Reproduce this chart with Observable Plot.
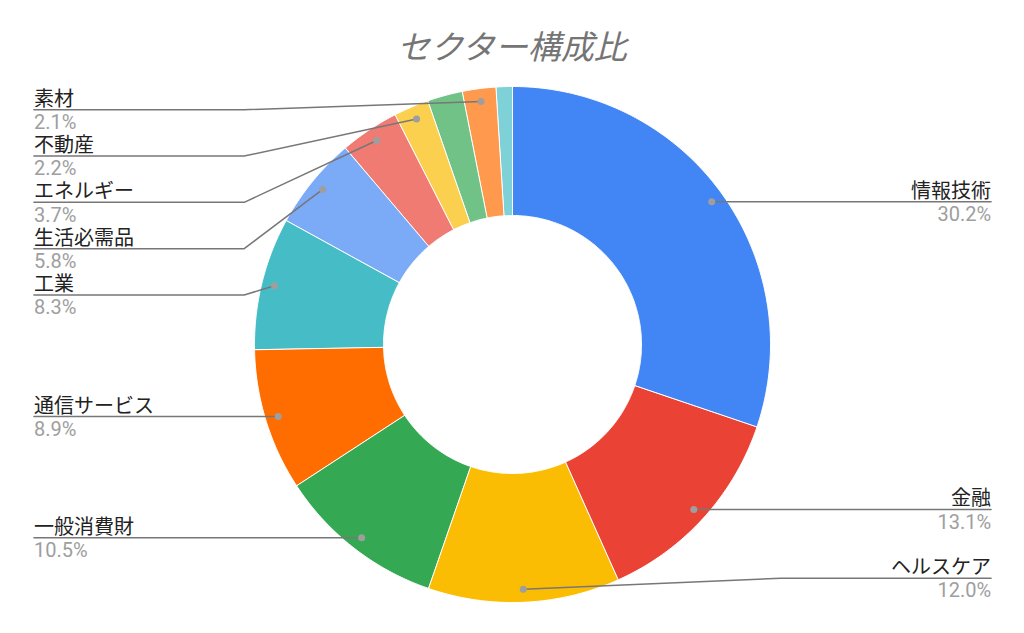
<!DOCTYPE html>
<html>
<head>
<meta charset="utf-8">
<script src="https://cdn.jsdelivr.net/npm/d3@7"></script>
<script src="https://cdn.jsdelivr.net/npm/@observablehq/plot@0.6"></script>
<style>
  html, body { margin: 0; padding: 0; background: #fff; }
  body { width: 1024px; height: 633px; overflow: hidden; font-family: Roboto, "Noto Sans CJK JP", sans-serif; }
  #title { height: 70px; box-sizing: border-box; padding-top: 25px; line-height: 40px; font-size: 33px; font-style: italic; color: #757575; text-align: center; font-family: "Noto Sans CJK JP", sans-serif; }
  #chart svg { display: block; }
</style>
</head>
<body>
<div id="title">セクター構成比</div>
<div id="chart"></div>
<script>
// ---- data ----
const sectors = ["情報技術", "金融", "ヘルスケア", "一般消費財", "通信サービス", "工業", "生活必需品", "エネルギー", "不動産", null, "素材", null];
const weights = [30.2, 13.1, 12.0, 10.5, 8.9, 8.3, 5.8, 3.7, 2.2, 2.2, 2.1, 1.0];
const colors = ["#4285F4", "#EA4335", "#FBBC04", "#34A853", "#FF6D01", "#46BDC6", "#7BAAF7", "#F07B72", "#FCD04F", "#71C287", "#FF994D", "#7ED1D7"];

// ---- layout parameters (in radius units) ----
const W = 1024, H = 563;
const R = 258;               // outer radius in px (defines scale domain)
const cx = 512, cy = 274;    // pie center in px within the svg
const inner = 0.5;
const dotR = 0.95;
const elbowX = 1.04, textX = 1.855;
const yTop = 0.91, yBot = -0.906, gap = 0.1795;

const total = d3.sum(weights);
let cum = 0;
const slices = weights.map((w, i) => {
  const a0 = cum / total * 2 * Math.PI;
  cum += w;
  const a1 = cum / total * 2 * Math.PI;
  return {id: i, name: sectors[i], w, a0, a1, mid: (a0 + a1) / 2};
});

// ring polygons
const ring = [];
for (const s of slices) {
  const n = Math.max(2, Math.ceil((s.a1 - s.a0) / (Math.PI / 360)));
  for (let k = 0; k <= n; k++) {
    const a = s.a0 + (s.a1 - s.a0) * k / n;
    ring.push({id: s.id, x: Math.sin(a), y: Math.cos(a)});
  }
  for (let k = n; k >= 0; k--) {
    const a = s.a0 + (s.a1 - s.a0) * k / n;
    ring.push({id: s.id, x: inner * Math.sin(a), y: inner * Math.cos(a)});
  }
}

// labels
const labeled = slices.filter(s => s.name).map(s => ({
  ...s,
  side: s.mid < Math.PI ? "right" : "left",
  ax: dotR * Math.sin(s.mid),
  ay: dotR * Math.cos(s.mid)
}));
for (const side of ["left", "right"]) {
  const items = labeled.filter(d => d.side === side).sort((a, b) => b.ay - a.ay);
  let prev = Infinity;
  for (const d of items) { d.ly = Math.min(d.ay, yTop, prev - gap); prev = d.ly; }
  let next = -Infinity;
  for (let i = items.length - 1; i >= 0; i--) {
    const d = items[i];
    d.ly = Math.max(d.ly, yBot, next + gap); next = d.ly;
  }
}
const leaders = [];
for (const d of labeled) {
  const sg = d.side === "right" ? 1 : -1;
  leaders.push({id: d.id, x: d.ax, y: d.ay});
  leaders.push({id: d.id, x: sg * elbowX, y: d.ly});
  leaders.push({id: d.id, x: sg * textX, y: d.ly});
}
const pct = d => d3.format(".1f")(d.w / total * 100) + "%";
const left = labeled.filter(d => d.side === "left");
const right = labeled.filter(d => d.side === "right");

const chart = Plot.plot({
  width: W, height: H,
  margin: 0,
  x: {domain: [-cx / R, (W - cx) / R], axis: null},
  y: {domain: [-(H - cy) / R, cy / R], axis: null},
  color: {type: "ordinal", domain: slices.map(s => s.id), range: colors},
  style: {fontFamily: "Roboto, 'Noto Sans CJK JP', sans-serif", background: "#fff"},
  marks: [
    Plot.line(ring, {x: "x", y: "y", z: "id", fill: "id", stroke: "#fff", strokeWidth: 1, curve: "linear-closed"}),
    Plot.line(leaders, {x: "x", y: "y", z: "id", stroke: "#777", strokeWidth: 1.5}),
    Plot.dot(labeled, {x: "ax", y: "ay", r: 3.5, fill: "#9e9e9e"}),
    Plot.text(left, {x: -textX, y: "ly", text: "name", textAnchor: "start", lineAnchor: "bottom", dy: -4, fontSize: 20, fill: "#222"}),
    Plot.text(left, {x: -textX, y: "ly", text: pct, textAnchor: "start", lineAnchor: "top", dy: 5, fontSize: 20, fill: "#9e9e9e"}),
    Plot.text(right, {x: textX, y: "ly", text: "name", textAnchor: "end", lineAnchor: "bottom", dy: -4, fontSize: 20, fill: "#222"}),
    Plot.text(right, {x: textX, y: "ly", text: pct, textAnchor: "end", lineAnchor: "top", dy: 5, fontSize: 20, fill: "#9e9e9e"})
  ]
});
document.getElementById("chart").appendChild(chart);
</script>
</body>
</html>
